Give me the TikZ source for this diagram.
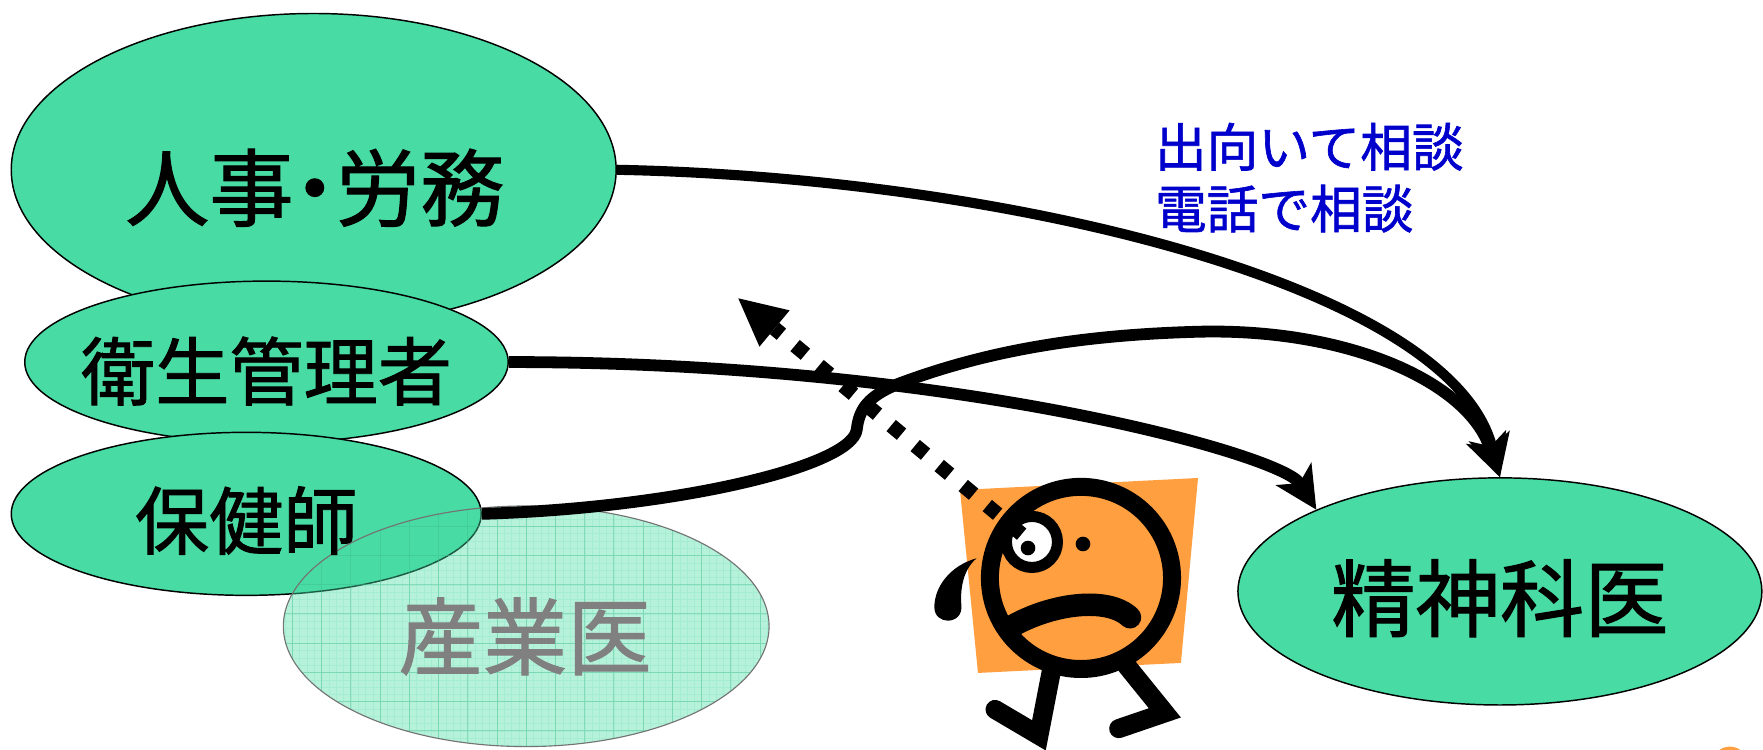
\documentclass[tikz,border=0pt]{standalone}
\usepackage{fontspec}
\newfontfamily\jpfont[FakeBold=1.2]{Noto Sans CJK JP}
\usetikzlibrary{shapes.geometric,arrows.meta}

\definecolor{pill}{HTML}{48DBA3}
\definecolor{skin}{HTML}{FF9F3F}
\definecolor{note}{HTML}{0000CC}
\definecolor{faded}{HTML}{808080}

\tikzset{
  bubble/.style={ellipse, draw=black, line width=1.3pt, fill=pill, inner sep=0pt},
  biglabel/.style={font=\jpfont\fontsize{75pt}{80pt}\selectfont, inner sep=0pt},
  midlabel/.style={font=\jpfont\fontsize{66pt}{70pt}\selectfont, inner sep=0pt},
  notelabel/.style={font=\jpfont\fontsize{46pt}{50pt}\selectfont, text=note, inner sep=0pt},
  link/.style={line width=10.5pt,
    -{Stealth[length=38pt,width=38pt,inset=10pt,line width=0pt]}},
  gazeline/.style={line width=13pt, dash pattern=on 12pt off 15.8pt, dash phase=22pt,
    -{Triangle[length=42pt,width=42pt,line width=0pt]}},
  limb/.style={line width=17pt, line cap=round, line join=miter},
}

\begin{document}
\begin{tikzpicture}[x=1pt,y=-1pt]
\useasboundingbox (0,0) rectangle (1568,667);
\clip (0,0) rectangle (1568,667);

% staff ellipses
\node[bubble, minimum width=538pt, minimum height=278pt] (jinji) at (279,151) {};
\node[bubble, minimum width=430pt, minimum height=144pt] (eisei) at (237,322) {};
\node[bubble, minimum width=418pt, minimum height=145pt] (hoken) at (219,457) {};

% occupational physician: translucent, gridded
\begin{scope}
  \clip (468,557) ellipse[x radius=216pt, y radius=107pt];
  \fill[pill, opacity=0.4] (250,448) rectangle (686,667);
  \draw[pill, opacity=0.15, line width=0.3pt, step=6.5pt] (240,680) grid (700,440);
  \draw[pill!85!black, opacity=0.4, line width=0.8pt, step=26pt] (240,680) grid (700,440);
\end{scope}
\node[ellipse, draw=black!55, line width=1pt, minimum width=432pt, minimum height=214pt,
      inner sep=0pt] (sangyo) at (468,557) {};

% psychiatrist
\node[bubble, minimum width=466pt, minimum height=202pt] (seishin) at (1334,526) {};

% labels
\node[biglabel] (jinjiT) at (280,167) {人事\kern-0.25em・\kern-0.25em労務};
\node[midlabel] (eiseiT) at (237,330) {衛生管理者};
\node[midlabel] (hokenT) at (219,463) {保健師};
\node[biglabel, text=faded] (sangyoT) at (467,566) {産業医};
\node[biglabel] (seishinT) at (1334,532) {精神科医};

\node[notelabel, anchor=base west] (note1) at (1027,148) {出向いて相談};
\node[notelabel, anchor=base west] (note2) at (1027,203) {電話で相談};

% connectors to the psychiatrist
\draw[link, line width=9pt] (jinji.east) .. controls (900,158) and (1290,255) .. (seishin.north);
\draw[link] (eisei.east) .. controls (850,322) and (1140,405) .. (seishin.156.5);
\draw[link] (hoken.east) .. controls (600,452) and (758,415) .. (762,382)
  .. controls (764,364) and (772,352) .. (800,341)
  .. controls (870,315) and (950,298) .. (1067,295)
  .. controls (1200,292) and (1305,340) .. (seishin.north);

% worried employee
\fill[skin] (853.8,435.8) -- (1065.5,425.1) -- (1050.3,589.6) -- (869.8,598.5) -- cycle;
\draw[limb] (936,592) -- (924,654) -- (885,631);
\draw[limb] (1002,592) -- (1036,634) -- (995,648);
\draw[line width=16pt, fill=skin] (961.4,514) circle[radius=81pt];
% tear drop
\fill (868.6,496.5) .. controls (845,503) and (831,522) .. (831,540)
  .. controls (831,548) and (837,552) .. (843,552)
  .. controls (850,552) and (856,547) .. (855,538)
  .. controls (854,525) and (856,507) .. (868.6,496.5) -- cycle;
% frowning mouth
\draw[line width=20pt, line cap=round] (900,557) .. controls (935,537) and (985,530) .. (1005,549);
% eyes
\fill (963.2,483.8) circle[radius=6.5pt];
\draw[line width=9.8pt, fill=white] (917.8,482) circle[radius=22.7pt];
\fill (914.3,487.4) circle[radius=6.5pt];

% gaze toward the staff
\coordinate (gaze) at (913.1,478.8);
\coordinate (look) at (656.6,265.3);
\draw[gazeline] (gaze) -- (look);

% corner blob
\fill[skin] (1538.5,680) circle[radius=16pt];
\end{tikzpicture}
\end{document}
